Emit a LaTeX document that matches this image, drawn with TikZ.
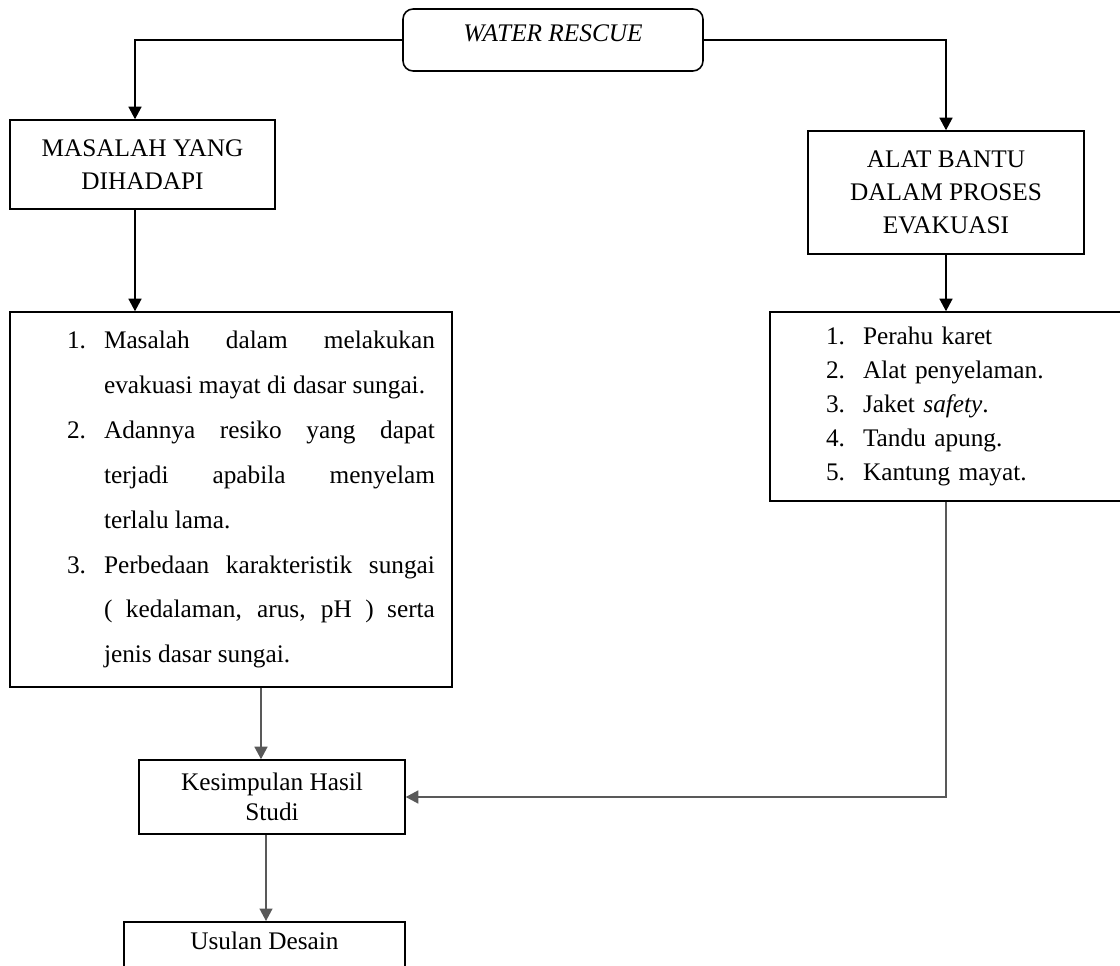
\documentclass[tikz,border=0pt]{standalone}
\usepackage{fontspec}
\setmainfont{Liberation Serif}
\usetikzlibrary{arrows.meta}

\begin{document}
\begin{tikzpicture}[
  x=0.02cm, y=-0.02cm,
  box/.style={draw, line width=0.9pt, align=center,
              font=\fontsize{14.4}{18.8}\selectfont},
  arr/.style={-{Triangle[length=0.25cm, width=0.26cm]}, line width=0.8pt},
  garr/.style={arr, draw=black!65}
]
  \useasboundingbox (0,0) rectangle (1120,966);
  \clip (0,0) rectangle (1120,966);

  \node (water)   at (553,40)      [box, rounded corners=0.2cm, minimum width=6cm,
                                    inner ysep=0.2cm, text height=0.46cm, text depth=0.38cm]
                                   {\itshape WATER RESCUE};
  \node (masalah) at (142.5,164.5) [box, minimum width=5.3cm, minimum height=1.78cm]
                                   {MASALAH YANG\\DIHADAPI};
  \node (alat)    at (946,192.5)   [box, minimum width=5.52cm, minimum height=2.46cm]
                                   {ALAT BANTU\\DALAM PROSES\\EVAKUASI};
  \node (probs)   at (231,499.5)   [box, minimum height=7.5cm, text width=8.16cm,
                                    inner xsep=0.34cm, align=justify,
                                    font=\fontsize{14.4}{25.6}\selectfont]
    {\leftskip=0.8cm \tolerance=10000 \hyphenpenalty=10000
     \hangindent=0.74cm \hangafter=1
     \makebox[0.74cm][l]{1.}Masalah dalam melakukan\linebreak
     evakuasi mayat di dasar sungai.\par
     \hangindent=0.74cm \hangafter=1
     \makebox[0.74cm][l]{2.}Adannya resiko yang dapat\linebreak
     terjadi apabila menyelam\linebreak terlalu lama.\par
     \hangindent=0.74cm \hangafter=1
     \makebox[0.74cm][l]{3.}Perbedaan karakteristik sungai\linebreak
     ( kedalaman, arus, pH ) serta\linebreak jenis dasar sungai.\par};
  \node (tools)   at (946,406.5)   [box, minimum height=3.78cm, text width=6.64cm,
                                    inner xsep=0.2cm, align=left,
                                    font=\fontsize{14.4}{19.35}\selectfont]
    {\leftskip=0.92cm
     \makebox[0.74cm][l]{1.}Perahu karet\par
     \makebox[0.74cm][l]{2.}Alat penyelaman.\par
     \makebox[0.74cm][l]{3.}Jaket \textit{safety}.\par
     \makebox[0.74cm][l]{4.}Tandu apung.\par
     \makebox[0.74cm][l]{5.}Kantung mayat.\par};
  \node (kesimp)  at (272,797)     [box, minimum width=5.32cm, minimum height=1.48cm,
                                    font=\fontsize{14.4}{17.1}\selectfont]
                                   {Kesimpulan Hasil\\Studi};
  \node (usulan)  at (264.5,921)   [box, anchor=north, minimum width=5.62cm,
                                    inner ysep=0.2cm, text height=0.36cm, text depth=1cm]
                                   {Usulan Desain};

  \draw[arr]  (water.west) -| ([xshift=-0.15cm]masalah.north);
  \draw[arr]  (water.east) -| (alat.north);
  \draw[arr]  ([xshift=-0.15cm]masalah.south) -- ([xshift=-0.15cm]masalah.south |- probs.north);
  \draw[arr]  (alat.south) -- (tools.north);
  \draw[garr] ([xshift=0.6cm]probs.south) -- ([xshift=0.6cm]probs.south |- kesimp.north);
  \draw[garr] ([xshift=-0.12cm]kesimp.south) -- ([xshift=-0.12cm]kesimp.south |- usulan.north);
  \draw[garr] (tools.south) |- (kesimp.east);
\end{tikzpicture}
\end{document}
